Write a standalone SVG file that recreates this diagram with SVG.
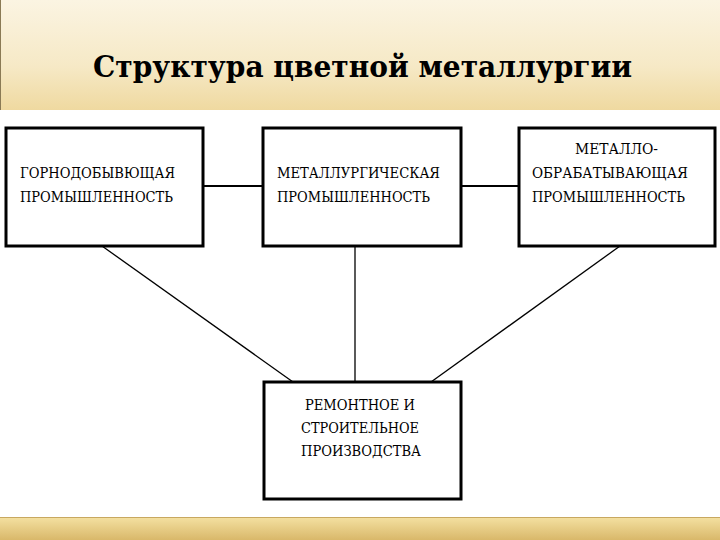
<svg xmlns="http://www.w3.org/2000/svg" width="720" height="540" viewBox="0 0 720 540">
<defs>
<linearGradient id="band" x1="0" y1="0" x2="0" y2="1">
<stop offset="0" stop-color="#fbf4e2"/><stop offset="0.6" stop-color="#f6e9c6"/><stop offset="1" stop-color="#efd9a0"/>
</linearGradient>
<linearGradient id="foot" x1="0" y1="0" x2="0" y2="1">
<stop offset="0" stop-color="#f3df9f"/><stop offset="1" stop-color="#d9b86a"/>
</linearGradient>
<style>
.box{fill:#fff;stroke:#000;stroke-width:3}
.t{font-family:'DejaVu Serif','Liberation Serif',serif;font-size:15px;fill:#000}
.title{font-family:'DejaVu Serif','Liberation Serif',serif;font-size:29px;font-weight:bold;fill:#000}
.c{stroke:#000;stroke-width:1.3;fill:none}
.c2{stroke:#000;stroke-width:2;fill:none}
</style>
</defs>
<rect width="720" height="540" fill="#fff"/>
<rect x="0" y="0" width="720" height="110" fill="url(#band)"/>
<line x1="0.5" y1="0" x2="0.5" y2="110" stroke="#8a7a55"/>
<rect x="0" y="518" width="720" height="22" fill="url(#foot)"/>
<line x1="0" y1="517.5" x2="720" y2="517.5" stroke="#c8a860"/>
<text class="title" x="93" y="77" textLength="539" lengthAdjust="spacingAndGlyphs">Структура цветной металлургии</text>
<g id="connectors">
<line class="c2" x1="203" y1="186" x2="262" y2="186"/>
<line class="c2" x1="461" y1="186" x2="518" y2="186"/>
<line class="c" x1="102" y1="246" x2="293" y2="382"/>
<line class="c" x1="355" y1="246" x2="355" y2="382"/>
<line class="c" x1="620" y1="246" x2="431" y2="382"/>
</g>
<g id="n1">
<rect class="box" x="6" y="128" width="197" height="118"/>
<text class="t" x="20" y="178" textLength="155" lengthAdjust="spacingAndGlyphs">ГОРНОДОБЫВЮЩАЯ</text>
<text class="t" x="20" y="202" textLength="153" lengthAdjust="spacingAndGlyphs">ПРОМЫШЛЕННОСТЬ</text>
</g>
<g id="n2">
<rect class="box" x="263" y="128" width="198" height="118"/>
<text class="t" x="277" y="178" textLength="163" lengthAdjust="spacingAndGlyphs">МЕТАЛЛУРГИЧЕСКАЯ</text>
<text class="t" x="277" y="202" textLength="153" lengthAdjust="spacingAndGlyphs">ПРОМЫШЛЕННОСТЬ</text>
</g>
<g id="n3">
<rect class="box" x="519" y="128" width="196" height="118"/>
<text class="t" x="575" y="154" textLength="83" lengthAdjust="spacingAndGlyphs">МЕТАЛЛО-</text>
<text class="t" x="532" y="178" textLength="156" lengthAdjust="spacingAndGlyphs">ОБРАБАТЫВАЮЩАЯ</text>
<text class="t" x="532" y="202" textLength="153" lengthAdjust="spacingAndGlyphs">ПРОМЫШЛЕННОСТЬ</text>
</g>
<g id="n4">
<rect class="box" x="264" y="382" width="197" height="117"/>
<text class="t" x="305" y="410" textLength="110" lengthAdjust="spacingAndGlyphs">РЕМОНТНОЕ И</text>
<text class="t" x="301" y="433" textLength="118" lengthAdjust="spacingAndGlyphs">СТРОИТЕЛЬНОЕ</text>
<text class="t" x="301" y="456" textLength="120" lengthAdjust="spacingAndGlyphs">ПРОИЗВОДСТВА</text>
</g>
</svg>
